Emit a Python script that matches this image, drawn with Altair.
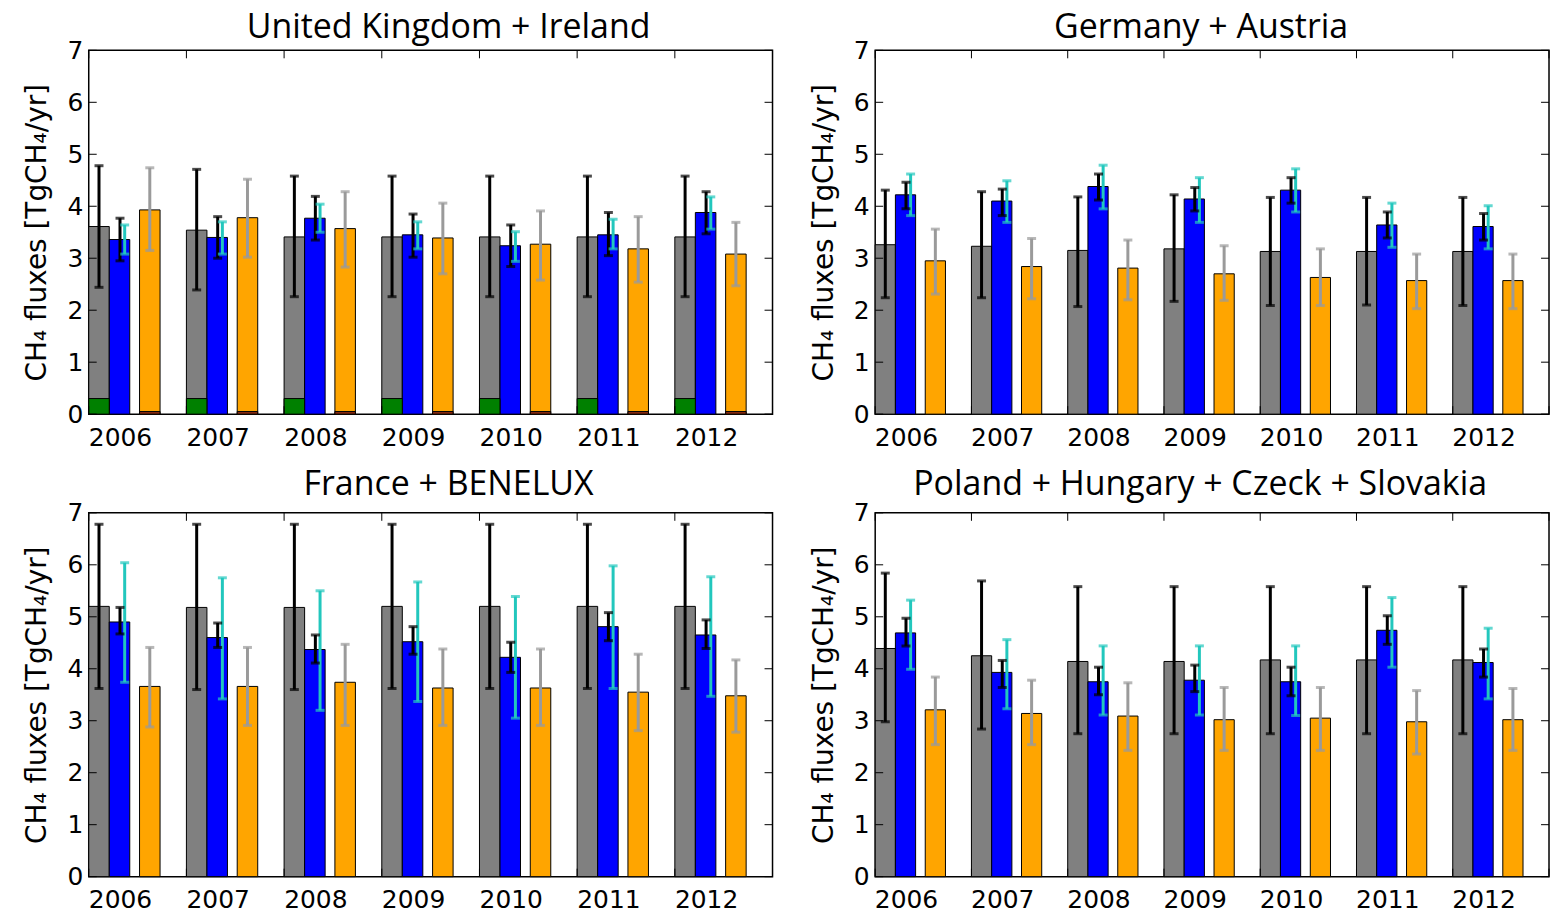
import altair as alt
import pandas as pd

years = [2006, 2007, 2008, 2009, 2010, 2011, 2012]
y_ticks = [0, 1, 2, 3, 4, 5, 6, 7]
titles = ["United Kingdom + Ireland", "Germany + Austria",
          "France + BENELUX", "Poland + Hungary + Czeck + Slovakia"]
y_title = "CH₄ fluxes [TgCH₄/yr]"

# ---- United Kingdom + Ireland
uk_gray = [3.61, 3.54, 3.41, 3.41, 3.41, 3.41, 3.41]
uk_gray_lo = [2.44, 2.39, 2.26, 2.26, 2.26, 2.26, 2.26]
uk_gray_hi = [4.78, 4.71, 4.58, 4.58, 4.58, 4.58, 4.58]
uk_blue = [3.36, 3.40, 3.77, 3.45, 3.24, 3.45, 3.88]
uk_blue_lo = [2.95, 3.00, 3.35, 3.02, 2.84, 3.05, 3.47]
uk_blue_hi = [3.77, 3.80, 4.19, 3.85, 3.64, 3.88, 4.28]
uk_cyan_lo = [3.08, 3.08, 3.50, 3.18, 2.94, 3.18, 3.56]
uk_cyan_hi = [3.64, 3.70, 4.04, 3.70, 3.51, 3.75, 4.18]
uk_orange = [3.93, 3.78, 3.57, 3.39, 3.27, 3.18, 3.08]
uk_orange_lo = [3.15, 3.02, 2.83, 2.70, 2.58, 2.54, 2.47]
uk_orange_hi = [4.74, 4.52, 4.28, 4.06, 3.91, 3.80, 3.69]
uk_green = [0.30, 0.30, 0.30, 0.30, 0.30, 0.30, 0.30]
uk_red = [0.05, 0.05, 0.05, 0.05, 0.05, 0.05, 0.05]

# ---- Germany + Austria
de_gray = [3.26, 3.23, 3.15, 3.18, 3.13, 3.13, 3.13]
de_gray_lo = [2.24, 2.24, 2.07, 2.17, 2.09, 2.10, 2.09]
de_gray_hi = [4.31, 4.28, 4.18, 4.22, 4.17, 4.17, 4.17]
de_blue = [4.22, 4.10, 4.38, 4.14, 4.31, 3.64, 3.61]
de_blue_lo = [3.95, 3.82, 4.12, 3.91, 4.06, 3.39, 3.35]
de_blue_hi = [4.46, 4.33, 4.62, 4.36, 4.55, 3.89, 3.86]
de_cyan_lo = [3.82, 3.69, 3.95, 3.69, 3.89, 3.21, 3.18]
de_cyan_hi = [4.62, 4.49, 4.79, 4.55, 4.72, 4.06, 4.01]
de_orange = [2.95, 2.84, 2.81, 2.70, 2.63, 2.57, 2.57]
de_orange_lo = [2.31, 2.22, 2.20, 2.19, 2.09, 2.03, 2.03]
de_orange_hi = [3.56, 3.38, 3.35, 3.24, 3.18, 3.08, 3.08]

# ---- France + BENELUX
fr_gray = [5.20, 5.18, 5.18, 5.20, 5.20, 5.20, 5.20]
fr_gray_lo = [3.62, 3.60, 3.60, 3.62, 3.62, 3.62, 3.62]
fr_gray_hi = [6.78, 6.78, 6.78, 6.78, 6.78, 6.78, 6.78]
fr_blue = [4.90, 4.60, 4.37, 4.52, 4.22, 4.81, 4.65]
fr_blue_lo = [4.67, 4.41, 4.11, 4.28, 3.93, 4.54, 4.39]
fr_blue_hi = [5.18, 4.88, 4.65, 4.81, 4.51, 5.08, 4.94]
fr_cyan_lo = [3.74, 3.42, 3.20, 3.37, 3.05, 3.62, 3.47]
fr_cyan_hi = [6.04, 5.75, 5.50, 5.67, 5.39, 5.98, 5.77]
fr_orange = [3.66, 3.66, 3.74, 3.63, 3.63, 3.55, 3.48]
fr_orange_lo = [2.88, 2.91, 2.91, 2.91, 2.91, 2.81, 2.78]
fr_orange_hi = [4.41, 4.41, 4.47, 4.38, 4.38, 4.28, 4.17]

# ---- Poland + Hungary + Czeck + Slovakia
pl_gray = [4.39, 4.25, 4.14, 4.14, 4.17, 4.17, 4.17]
pl_gray_lo = [2.98, 2.84, 2.75, 2.75, 2.75, 2.75, 2.75]
pl_gray_hi = [5.84, 5.69, 5.58, 5.58, 5.58, 5.58, 5.58]
pl_blue = [4.69, 3.93, 3.75, 3.78, 3.75, 4.74, 4.12]
pl_blue_lo = [4.44, 3.64, 3.50, 3.56, 3.48, 4.47, 3.84]
pl_blue_hi = [4.97, 4.16, 4.03, 4.07, 4.03, 5.02, 4.38]
pl_cyan_lo = [3.99, 3.23, 3.11, 3.11, 3.10, 4.03, 3.42]
pl_cyan_hi = [5.32, 4.56, 4.44, 4.44, 4.44, 5.37, 4.78]
pl_orange = [3.21, 3.14, 3.09, 3.02, 3.05, 2.98, 3.02]
pl_orange_lo = [2.54, 2.54, 2.43, 2.43, 2.43, 2.36, 2.43]
pl_orange_hi = [3.84, 3.78, 3.73, 3.64, 3.64, 3.58, 3.62]

panels_data = [
    dict(gray=uk_gray, gray_lo=uk_gray_lo, gray_hi=uk_gray_hi, blue=uk_blue,
         blue_lo=uk_blue_lo, blue_hi=uk_blue_hi, cyan_lo=uk_cyan_lo, cyan_hi=uk_cyan_hi,
         orange=uk_orange, orange_lo=uk_orange_lo, orange_hi=uk_orange_hi,
         green=uk_green, red=uk_red),
    dict(gray=de_gray, gray_lo=de_gray_lo, gray_hi=de_gray_hi, blue=de_blue,
         blue_lo=de_blue_lo, blue_hi=de_blue_hi, cyan_lo=de_cyan_lo, cyan_hi=de_cyan_hi,
         orange=de_orange, orange_lo=de_orange_lo, orange_hi=de_orange_hi),
    dict(gray=fr_gray, gray_lo=fr_gray_lo, gray_hi=fr_gray_hi, blue=fr_blue,
         blue_lo=fr_blue_lo, blue_hi=fr_blue_hi, cyan_lo=fr_cyan_lo, cyan_hi=fr_cyan_hi,
         orange=fr_orange, orange_lo=fr_orange_lo, orange_hi=fr_orange_hi),
    dict(gray=pl_gray, gray_lo=pl_gray_lo, gray_hi=pl_gray_hi, blue=pl_blue,
         blue_lo=pl_blue_lo, blue_hi=pl_blue_hi, cyan_lo=pl_cyan_lo, cyan_hi=pl_cyan_hi,
         orange=pl_orange, orange_lo=pl_orange_lo, orange_hi=pl_orange_hi),
]

# ---- styling
color_domain = ["gray", "blue", "orange", "green", "red",
                "gray_err", "blue_err", "cyan_err", "orange_err"]
color_range = ["#808080", "#0000ff", "#ffa500", "#008000", "#8b2a10",
               "#000000", "#000000", "#22c7bd", "#9a9a9a"]
BAR_W = 0.21
BAR_START = {"gray": 0.0, "blue": 0.21, "orange": 0.52, "green": 0.0, "red": 0.52}
ERR_X = {"gray_err": 0.105, "blue_err": 0.32, "cyan_err": 0.368, "orange_err": 0.625}
ERR_KEYS = {"gray_err": ("gray_lo", "gray_hi"), "blue_err": ("blue_lo", "blue_hi"),
            "cyan_err": ("cyan_lo", "cyan_hi"), "orange_err": ("orange_lo", "orange_hi")}
LABEL_POS = 0.32
N = len(years)
H = 365
TICK = 8

cscale = alt.Scale(domain=color_domain, range=color_range)
xscale = alt.Scale(domain=[0, N], nice=False, zero=False)
yscale = alt.Scale(domain=[0, 7], nice=False)
xaxis = alt.Axis(values=[i + LABEL_POS for i in range(N)],
                 labelExpr=f"'' + ({years[0]} + floor(datum.value))",
                 title=None, labelFlush=False, labelOverlap=False, labelPadding=11)
yaxis = alt.Axis(values=y_ticks, title=y_title, format="d", labelPadding=6,
                 titlePadding=15)


def X(field):
    return alt.X(field, scale=xscale, axis=xaxis)


def Y(field):
    return alt.Y(field, scale=yscale, axis=yaxis)


def make_panel(p, title, width, title_dx, title_offset):
    bar_rows, base_rows, err_rows = [], [], []
    for i in range(N):
        for s in ["gray", "blue", "orange"]:
            bar_rows.append(dict(s=s, x=i + BAR_START[s], x2=i + BAR_START[s] + BAR_W, v=p[s][i]))
        for s in ["green", "red"]:
            if s in p:
                base_rows.append(dict(s=s, x=i + BAR_START[s], x2=i + BAR_START[s] + BAR_W, v=p[s][i]))
        for e, (lo, hi) in ERR_KEYS.items():
            err_rows.append(dict(e=e, xc=i + ERR_X[e], lo=p[lo][i], hi=p[hi][i]))
    bars_df = pd.DataFrame(bar_rows)
    err_df = pd.DataFrame(err_rows)

    bars = alt.Chart(bars_df).mark_bar(stroke="black", strokeWidth=1).encode(
        x=X("x:Q"), x2="x2:Q", y=Y("v:Q"), y2=alt.datum(0),
        color=alt.Color("s:N", scale=cscale, legend=None),
    )
    layers = [bars]
    if base_rows:
        base = alt.Chart(pd.DataFrame(base_rows)).mark_bar(stroke="black", strokeWidth=1).encode(
            x=X("x:Q"), x2="x2:Q", y=Y("v:Q"), y2=alt.datum(0),
            color=alt.Color("s:N", scale=cscale, legend=None),
        )
        layers.append(base)
    errs = alt.Chart(err_df).mark_rule(strokeWidth=3).encode(
        x=X("xc:Q"), y=Y("lo:Q"), y2="hi:Q",
        color=alt.Color("e:N", scale=cscale, legend=None),
    )
    caps = alt.Chart(err_df).transform_fold(["lo", "hi"], as_=["k", "yv"]).mark_tick(
        orient="horizontal", size=9, thickness=3).encode(
        x=X("xc:Q"), y=Y("yv:Q"),
        color=alt.Color("e:N", scale=cscale, legend=None),
    )
    layers += [errs, caps]

    ydf = pd.DataFrame({"t": y_ticks})
    xdf = pd.DataFrame({"t": list(range(N + 1))})
    tl = alt.Chart(ydf).mark_rule(color="black", strokeWidth=1).encode(
        y=Y("t:Q"), x=alt.value(0), x2=alt.value(TICK))
    tr = alt.Chart(ydf).mark_rule(color="black", strokeWidth=1).encode(
        y=Y("t:Q"), x=alt.value(width - TICK), x2=alt.value(width))
    tt = alt.Chart(xdf).mark_rule(color="black", strokeWidth=1).encode(
        x=X("t:Q"), y=alt.value(0), y2=alt.value(TICK))
    tb = alt.Chart(xdf).mark_rule(color="black", strokeWidth=1).encode(
        x=X("t:Q"), y=alt.value(H - TICK), y2=alt.value(H))
    layers += [tl, tr, tt, tb]

    return alt.layer(*layers).properties(
        width=width, height=H,
        title=alt.TitleParams(title, font="Open Sans", fontSize=34, fontWeight="normal",
                              color="black", anchor="middle", frame="group",
                              dx=title_dx, offset=title_offset),
    )


widths = [686, 676, 686, 676]
dxs = [18, -11, 18, -12]
offsets = [-7, -7, -1, -1]
charts = [make_panel(p, t, w, d, o) for p, t, w, d, o in zip(panels_data, titles, widths, dxs, offsets)]

chart = alt.concat(*charts, columns=2, spacing={"row": 16, "column": 35}).configure_view(
    stroke="black", strokeWidth=1.5
).configure_axis(
    domain=False, ticks=False, grid=False,
    labelFont="DejaVu Sans", labelFontSize=25, labelColor="black",
    titleFont="DejaVu Sans", titleFontSize=28, titleFontWeight="normal", titleColor="black",
).properties(padding={"left": 15, "top": 1, "right": 0, "bottom": 0})

chart.save("out.html", embed_options={"renderer": "svg", "actions": False})
